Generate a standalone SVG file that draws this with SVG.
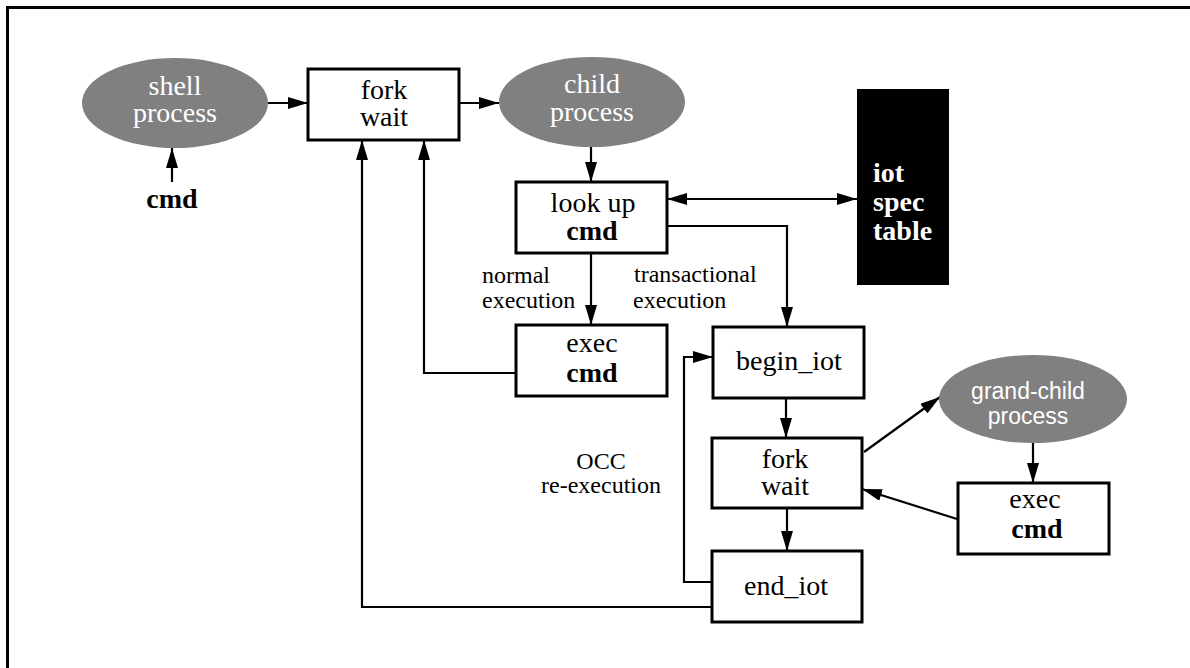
<svg xmlns="http://www.w3.org/2000/svg" width="1190" height="668" viewBox="0 0 1190 668">
<style>
.box{fill:#fff;stroke:#000;stroke-width:3}
.ell{fill:#808080;stroke:none}
.t{font-family:"Liberation Serif","Times New Roman",serif;font-size:28px;fill:#000;text-anchor:middle}
.w{fill:#fff}
.b{font-weight:bold}
.st{text-anchor:start}
.s{font-family:"Liberation Sans",Arial,sans-serif;font-size:23px;fill:#fff;text-anchor:middle}
.lbl{font-family:"Liberation Serif","Times New Roman",serif;font-size:24px;fill:#000}
.c{fill:none;stroke:#000;stroke-width:2.2}
</style>
<defs>
<marker id="ah" markerUnits="userSpaceOnUse" markerWidth="20" markerHeight="12" refX="20" refY="6" orient="auto">
<path d="M0,0 L20,6 L0,12 z" fill="#000"/>
</marker>
<marker id="as" markerUnits="userSpaceOnUse" markerWidth="20" markerHeight="12" refX="0" refY="6" orient="auto">
<path d="M20,0 L0,6 L20,12 z" fill="#000"/>
</marker>
</defs>
<rect width="1190" height="668" fill="#fff"/>
<path d="M7.5,668 V7.5 H1190" fill="none" stroke="#000" stroke-width="3"/>

<g id="connectors">
<path class="c" d="M268,103 H308" marker-end="url(#ah)"/>
<path class="c" d="M172,182 V148" marker-end="url(#ah)"/>
<path class="c" d="M459,103 H499" marker-end="url(#ah)"/>
<path class="c" d="M591,147 V182" marker-end="url(#ah)"/>
<path class="c" d="M667,199 H857" marker-start="url(#as)" marker-end="url(#ah)"/>
<path class="c" d="M667,226 H787 V327" marker-end="url(#ah)"/>
<path class="c" d="M591,253 V325" marker-end="url(#ah)"/>
<path class="c" d="M516,373 H424 V140" marker-end="url(#ah)"/>
<path class="c" d="M712,607 H362 V140" marker-end="url(#ah)"/>
<path class="c" d="M712,582 H684 V357 H713" marker-end="url(#ah)"/>
<path class="c" d="M786,398 V438" marker-end="url(#ah)"/>
<path class="c" d="M787,508 V551" marker-end="url(#ah)"/>
<path class="c" d="M864,452 L940,397" marker-end="url(#ah)"/>
<path class="c" d="M1033,443 V483" marker-end="url(#ah)"/>
<path class="c" d="M957,519 L862,489" marker-end="url(#ah)"/>
</g>

<g id="shell">
<ellipse class="ell" cx="175" cy="103" rx="93" ry="45"/>
<text class="t w" x="175" y="95">shell</text>
<text class="t w" x="175" y="122">process</text>
</g>
<g id="cmd-input">
<text class="t b" x="172" y="208">cmd</text>
</g>
<g id="fork1">
<rect class="box" x="308" y="69" width="151" height="71"/>
<text class="t" x="384" y="99">fork</text>
<text class="t" x="384" y="126">wait</text>
</g>
<g id="child">
<ellipse class="ell" cx="592" cy="102" rx="93" ry="45"/>
<text class="t w" x="592" y="93">child</text>
<text class="t w" x="592" y="121">process</text>
</g>
<g id="lookup">
<rect class="box" x="516" y="182" width="151" height="71"/>
<text class="t" x="593" y="212">look up</text>
<text class="t b" x="592" y="240">cmd</text>
</g>
<g id="iotspec">
<rect x="857" y="89" width="92" height="196" fill="#000"/>
<text class="t w b st" x="873" y="182">iot</text>
<text class="t w b st" x="873" y="211">spec</text>
<text class="t w b st" x="873" y="240">table</text>
</g>
<g id="labels">
<text class="lbl" x="482" y="283">normal</text>
<text class="lbl" x="482" y="308">execution</text>
<text class="lbl" x="634" y="282">transactional</text>
<text class="lbl" x="633" y="308">execution</text>
<text class="lbl" x="601" y="469" text-anchor="middle">OCC</text>
<text class="lbl" x="601" y="493" text-anchor="middle">re-execution</text>
</g>
<g id="exec1">
<rect class="box" x="516" y="325" width="151" height="71"/>
<text class="t" x="592" y="352">exec</text>
<text class="t b" x="592" y="382">cmd</text>
</g>
<g id="begin">
<rect class="box" x="713" y="327" width="151" height="71"/>
<text class="t" x="789" y="370">begin_iot</text>
</g>
<g id="fork2">
<rect class="box" x="712" y="438" width="150" height="70"/>
<text class="t" x="785" y="468">fork</text>
<text class="t" x="785" y="495">wait</text>
</g>
<g id="end">
<rect class="box" x="712" y="551" width="150" height="71"/>
<text class="t" x="786" y="595">end_iot</text>
</g>
<g id="grandchild">
<ellipse class="ell" cx="1033" cy="399" rx="94" ry="44"/>
<text class="s" x="1028" y="399">grand-child</text>
<text class="s" x="1028" y="424">process</text>
</g>
<g id="exec2">
<rect class="box" x="958" y="483" width="151" height="71"/>
<text class="t" x="1035" y="508">exec</text>
<text class="t b" x="1037" y="538">cmd</text>
</g>
</svg>
